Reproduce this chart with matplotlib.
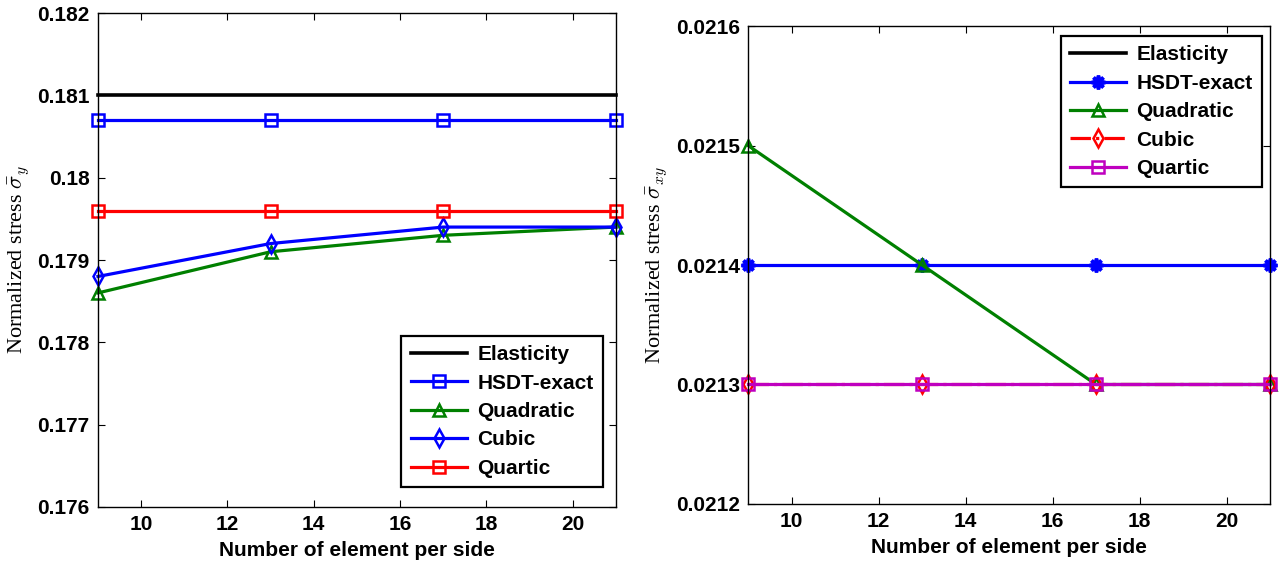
import numpy as np
import matplotlib
matplotlib.use("Agg")
import matplotlib.pyplot as plt
from matplotlib.ticker import FuncFormatter

# Data
elements = [9, 13, 17, 21]

# left panel: normalized stress sigma_y
sy_elasticity = [0.181, 0.181, 0.181, 0.181]
sy_hsdt = [0.1807, 0.1807, 0.1807, 0.1807]
sy_quadratic = [0.1786, 0.1791, 0.1793, 0.1794]
sy_cubic = [0.1788, 0.1792, 0.1794, 0.1794]
sy_quartic = [0.1796, 0.1796, 0.1796, 0.1796]

# right panel: normalized stress sigma_xy
sxy_hsdt = [0.0214, 0.0214, 0.0214, 0.0214]
sxy_quadratic = [0.0215, 0.0214, 0.0213, 0.0213]
sxy_cubic = [0.0213, 0.0213, 0.0213, 0.0213]
sxy_quartic = [0.0213, 0.0213, 0.0213, 0.0213]

sy_ticks = [0.176, 0.177, 0.178, 0.179, 0.180, 0.181, 0.182]
sxy_ticks = [0.0212, 0.0213, 0.0214, 0.0215, 0.0216]
x_ticks = [10, 12, 14, 16, 18, 20]

BLUE = (0, 0, 1)
GREEN = (0, 0.5, 0)
RED = (1, 0, 0)
MAGENTA = (0.75, 0, 0.75)

plt.rcParams['font.family'] = ['Liberation Sans', 'DejaVu Sans']
plt.rcParams['mathtext.fontset'] = 'cm'

fig = plt.figure(figsize=(12.82, 5.68), dpi=100)
ax1 = fig.add_axes([0.0764, 0.1074, 0.404, 0.8697])
ax2 = fig.add_axes([0.5835, 0.1127, 0.4072, 0.8415])

lw = 2.3
ms = 9
mew = 1.8
common = dict(lw=lw, ms=ms, mew=mew, mfc='none')

# left panel
ax1.plot(elements, sy_elasticity, color='k', lw=lw + 0.3, label='Elasticity')
ax1.plot(elements, sy_hsdt, color=BLUE, marker='s', label='HSDT-exact', **common)
ax1.plot(elements, sy_quadratic, color=GREEN, marker='^', label='Quadratic', **common)
ax1.plot(elements, sy_cubic, color=BLUE, marker='d', label='Cubic', **common)
ax1.plot(elements, sy_quartic, color=RED, marker='s', label='Quartic', **common)
ax1.set_ylim(0.176, 0.182)
ax1.set_yticks(sy_ticks)
ax1.set_ylabel(r'Normalized stress $\bar{\sigma}_y$', family='Liberation Serif',
               fontsize=16, labelpad=4)

# right panel
ax2.plot([], [], color='k', lw=lw + 0.3, label='Elasticity')
ax2.plot(elements, sxy_hsdt, color=BLUE, marker=(8, 2, 0), label='HSDT-exact',
         lw=lw, ms=10, mew=2.6)
ax2.plot(elements, sxy_quadratic, color=GREEN, marker='^', label='Quadratic', **common)
ax2.plot(elements, sxy_cubic, color=RED, marker='d', ls='-.', label='Cubic', **common)
ax2.plot(elements, sxy_quartic, color=MAGENTA, marker='s', label='Quartic', **common)
ax2.set_ylim(0.0212, 0.0216)
ax2.set_yticks(sxy_ticks)
ax2.set_ylabel(r'Normalized stress $\bar{\sigma}_{xy}$', family='Liberation Serif',
               fontsize=16, labelpad=4)

for ax in (ax1, ax2):
    ax.set_xlim(9, 21)
    ax.set_xticks(x_ticks)
    ax.yaxis.set_major_formatter(FuncFormatter(lambda v, p: '%g' % round(v, 6)))
    ax.tick_params(direction='in', top=True, right=True, length=5, width=0.8,
                   labelsize=15, pad=6)
    for lab in ax.get_xticklabels() + ax.get_yticklabels():
        lab.set_fontweight('bold')
    for sp in ax.spines.values():
        sp.set_linewidth(1.0)
    ax.set_xlabel('Number of element per side', fontsize=15, fontweight='bold', labelpad=5)
    for line in ax.get_lines():
        line.set_clip_on(False)

leg_kw = dict(fancybox=False, framealpha=1, edgecolor='k', handlelength=2.7,
              handletextpad=0.5, labelspacing=0.45, borderpad=0.45, borderaxespad=0,
              prop=dict(weight='bold', size=15))
leg1 = ax1.legend(loc='lower right', bbox_to_anchor=(0.975, 0.04), **leg_kw)
leg2 = ax2.legend(loc='upper right', bbox_to_anchor=(0.985, 0.979), **leg_kw)
for leg in (leg1, leg2):
    leg.get_frame().set_linewidth(1.6)

fig.savefig('out.png', dpi=100)
